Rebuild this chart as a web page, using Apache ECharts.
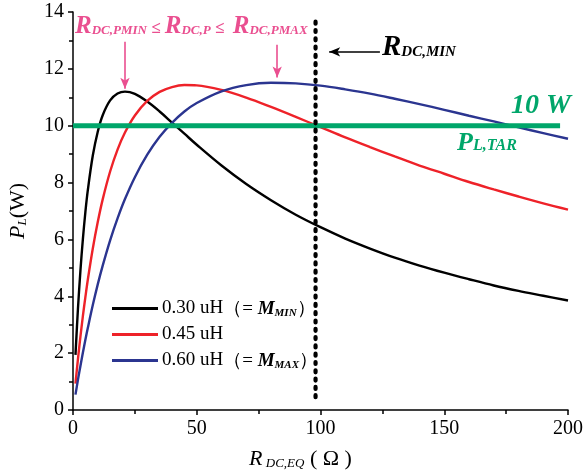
<!DOCTYPE html>
<html><head><meta charset="utf-8">
<script src="https://cdn.jsdelivr.net/npm/echarts@6/dist/echarts.min.js"></script>
<style>html,body{margin:0;padding:0;background:#fff}#c{width:584px;height:470px}</style>
</head><body><div id="c"></div>
<script>
// R_DC,EQ (ohm)
const rValues = [1,2,3,4,5,6,8,10,12,15,18,21,25,30,35,40,45,50,60,70,80,90,100,110,120,130,140,150,160,170,180,190,200];
// P_L (W) for each mutual inductance
const p030 = [1.94,3.56,4.90,6.02,6.96,7.74,8.95,9.79,10.37,10.89,11.13,11.20,11.12,10.85,10.50,10.11,9.72,9.33,8.60,7.95,7.38,6.87,6.43,6.03,5.68,5.36,5.08,4.83,4.60,4.38,4.19,4.02,3.85];
const p045 = [0.93,1.79,2.58,3.31,3.97,4.59,5.68,6.61,7.41,8.39,9.16,9.76,10.36,10.87,11.19,11.36,11.43,11.42,11.26,10.99,10.66,10.31,9.95,9.59,9.25,8.92,8.60,8.31,8.02,7.76,7.51,7.27,7.05];
const p060 = [0.54,1.06,1.55,2.02,2.47,2.89,3.69,4.42,5.08,5.97,6.74,7.42,8.19,8.98,9.61,10.10,10.50,10.80,11.21,11.43,11.51,11.49,11.41,11.28,11.13,10.95,10.76,10.56,10.35,10.15,9.94,9.74,9.54];
const seriesNames = ['0.30 uH','0.45 uH','0.60 uH'];
const targetPower = 10;          // P_L,TAR
const targetRange = [0, 196.8];  // extent of the target line
const rdcMin = 98;               // R_DC,MIN
const rdcMinSpan = [0.45, 13.75];
const rdcPmin = 21, rdcPmax = 82.5;

const SERIF = "'Liberation Serif','Times New Roman',serif";
const PINK = '#ea4f90', GREEN = '#00a66a';
const COLORS = ['#000000', '#ee2229', '#2b3590'];
const zip = (xs, ys) => xs.map((x, i) => [x, ys[i]]);

const chart = echarts.init(document.getElementById('c'), null, {renderer: 'canvas'});
const lineSeries = (name, data, color) => ({
  name, type: 'line', data: zip(rValues, data), smooth: 0.35, symbol: 'none', showSymbol: false,
  lineStyle: {color, width: 2.4}, itemStyle: {color}, z: 3, silent: true
});
const legendFmt = (name) => {
  if (name === seriesNames[0]) return name + '{p|（= }{m|M}{s|MIN}{p|）}';
  if (name === seriesNames[2]) return name + '{p|（= }{m|M}{s|MAX}{p|）}';
  return name;
};
chart.setOption({
  animation: false,
  backgroundColor: '#fff',
  grid: {left: 73, right: 16, top: 12, bottom: 60, containLabel: false, outerBoundsMode: 'none'},
  xAxis: {
    type: 'value', min: 0, max: 200, interval: 50,
    axisLine: {lineStyle: {color: '#000', width: 1.5}},
    axisTick: {length: 5, lineStyle: {color: '#000', width: 1.5}},
    minorTick: {show: true, splitNumber: 2, length: 4, lineStyle: {color: '#000', width: 1.5}},
    splitLine: {show: false},
    axisLabel: {fontFamily: SERIF, fontSize: 20, color: '#000', margin: 9},
    name: '{i|R}{s| DC,EQ}{n| ( Ω )}', nameLocation: 'middle', nameGap: 38,
    nameTextStyle: {fontFamily: SERIF, color: '#000', padding: [0, 40, 0, 0], rich: {
      i: {fontFamily: SERIF, fontStyle: 'italic', fontSize: 22, color: '#000', verticalAlign: 'bottom'},
      s: {fontFamily: SERIF, fontStyle: 'italic', fontSize: 13, color: '#000', verticalAlign: 'bottom'},
      n: {fontFamily: SERIF, fontSize: 22, color: '#000', verticalAlign: 'bottom'}}}
  },
  yAxis: {
    type: 'value', min: 0, max: 14, interval: 2,
    axisLine: {lineStyle: {color: '#000', width: 1.5}},
    axisTick: {length: 5, lineStyle: {color: '#000', width: 1.5}},
    minorTick: {show: true, splitNumber: 2, length: 4, lineStyle: {color: '#000', width: 1.5}},
    splitLine: {show: false},
    axisLabel: {fontFamily: SERIF, fontSize: 20, color: '#000', margin: 9},
    name: '{i|P}{s|L}{n|(W)}', nameLocation: 'middle', nameGap: 44, nameRotate: 90,
    nameTextStyle: {fontFamily: SERIF, color: '#000', rich: {
      i: {fontFamily: SERIF, fontStyle: 'italic', fontSize: 22, color: '#000', verticalAlign: 'bottom'},
      s: {fontFamily: SERIF, fontStyle: 'italic', fontSize: 13, color: '#000', verticalAlign: 'bottom'},
      n: {fontFamily: SERIF, fontSize: 22, color: '#000', verticalAlign: 'bottom'}}}
  },
  legend: {
    data: seriesNames.map((n, i) => ({name: n, icon: 'rect', itemStyle: {color: COLORS[i]}})),
    orient: 'vertical', left: 107, top: 293,
    itemWidth: 46, itemHeight: 3, itemGap: 5, selectedMode: false,
    formatter: legendFmt,
    textStyle: {fontFamily: SERIF, fontSize: 19, color: '#000', lineHeight: 21, padding: [0,0,0,-1], rich: {
      p: {fontFamily: SERIF, fontSize: 19, color: '#000', verticalAlign: 'bottom', lineHeight: 21},
      m: {fontFamily: SERIF, fontSize: 19, fontStyle: 'italic', fontWeight: 'bold', color: '#000', verticalAlign: 'bottom', lineHeight: 21},
      s: {fontFamily: SERIF, fontSize: 11, fontStyle: 'italic', fontWeight: 'bold', color: '#000', verticalAlign: 'bottom', lineHeight: 19}
    }}
  },
  series: [
    lineSeries(seriesNames[0], p030, COLORS[0]),
    lineSeries(seriesNames[1], p045, COLORS[1]),
    lineSeries(seriesNames[2], p060, COLORS[2]),
    {
      name: 'target', type: 'line', data: [[targetRange[0], targetPower], [targetRange[1], targetPower]],
      symbol: 'none', lineStyle: {color: GREEN, width: 5}, z: 4, silent: true
    },
    {
      name: 'rdcmin', type: 'line', data: [[rdcMin, rdcMinSpan[0]], [rdcMin, rdcMinSpan[1]]],
      symbol: 'none', lineStyle: {color: '#000', width: 4.2, type: [2, 6.3], cap: 'round'}, z: 5, silent: true,
      markLine: {
        silent: true, symbol: ['none', 'arrow'], symbolSize: [7, 11], label: {show: false},
        data: [
          [{coord: [rdcPmin, 12.95], lineStyle: {color: PINK, width: 1.6, type: 'solid', cap: 'butt'}}, {coord: [rdcPmin, 11.3]}],
          [{coord: [rdcPmax, 12.85], lineStyle: {color: PINK, width: 1.6, type: 'solid', cap: 'butt'}}, {coord: [rdcPmax, 11.7]}],
          [{coord: [124, 12.6], lineStyle: {color: '#000', width: 1.6, type: 'solid', cap: 'butt'}}, {coord: [103.5, 12.6]}]
        ]
      }
    }
  ],
  graphic: [
    {type: 'text', left: 75, top: 14, z: 10, style: {
      text: '{r|R}{s|DC,PMIN}{le| ≤ }{r|R}{s|DC,P}{le| ≤  }{r|R}{s|DC,PMAX}',
      rich: {
        r: {fontFamily: SERIF, fontSize: 25, fontStyle: 'italic', fontWeight: 'bold', fill: PINK, verticalAlign: 'bottom'},
        s: {fontFamily: SERIF, fontSize: 13, fontStyle: 'italic', fontWeight: 'bold', fill: PINK, verticalAlign: 'bottom', padding: [0,0,2,0]},
        le: {fontFamily: SERIF, fontSize: 17, fontWeight: 'bold', fill: PINK, verticalAlign: 'bottom', padding: [0,0,2,0]}
      }}},
    {type: 'text', left: 382, top: 33, z: 10, style: {
      text: '{r|R}{s|DC,MIN}',
      rich: {
        r: {fontFamily: SERIF, fontSize: 29, fontStyle: 'italic', fontWeight: 'bold', fill: '#000', verticalAlign: 'bottom'},
        s: {fontFamily: SERIF, fontSize: 15, fontStyle: 'italic', fontWeight: 'bold', fill: '#000', verticalAlign: 'bottom', padding: [0,0,2,0]}
      }}},
    {type: 'text', left: 511, top: 92, z: 10, style: {
      text: '10 W', fontFamily: SERIF, fontSize: 28, fontStyle: 'italic', fontWeight: 'bold', fill: GREEN}},
    {type: 'text', left: 457, top: 130, z: 10, style: {
      text: '{r|P}{s|L,TAR}',
      rich: {
        r: {fontFamily: SERIF, fontSize: 26, fontStyle: 'italic', fontWeight: 'bold', fill: GREEN, verticalAlign: 'bottom'},
        s: {fontFamily: SERIF, fontSize: 16, fontStyle: 'italic', fontWeight: 'bold', fill: GREEN, verticalAlign: 'bottom', padding: [0,0,2,0]}
      }}}
  ]
});
</script></body></html>
